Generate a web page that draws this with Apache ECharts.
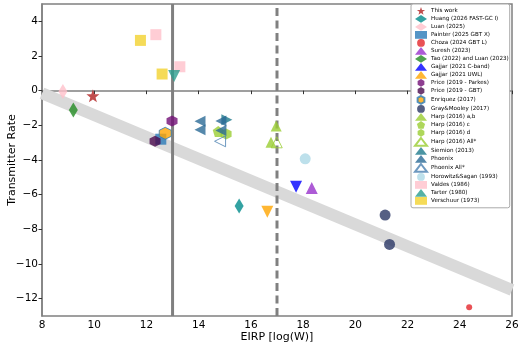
<!DOCTYPE html>
<html>
<head>
<meta charset="utf-8">
<script src="https://cdn.jsdelivr.net/npm/echarts@6/dist/echarts.min.js"></script>
<style>
  html, body { margin: 0; padding: 0; background: #fff; }
  #chart { width: 524px; height: 347px; }
</style>
</head>
<body>
<div id="chart"></div>
<script>
  // points, [EIRP, transmitter rate]
  const thisWork = [[9.95, -0.3]]
  const huang = [[15.55, -6.65]]
  const luan2025 = [[8.8, -0.05]]
  const painter = [[12.55, -2.8]]
  const choza = [[24.36, -12.5]]
  const suresh = [[18.33, -5.62]]
  const tao = [[9.2, -1.12]]
  const gajjarC = [[17.73, -5.55]]
  const gajjarUWL = [[16.63, -6.98]]
  const priceParkes = [[12.98, -1.75]]
  const priceGBT = [[12.33, -2.92]]
  const enriquez = [[12.72, -2.46]]
  const grayMooley = [[21.14, -7.18], [21.31, -8.87]]
  const harpAB = [[16.97, -2.04], [16.77, -2.98]]
  const harpC = [[14.75, -2.35]]
  const harpD = [[15.05, -2.5]]
  const harpAll = [[16.99, -2.98]]
  const siemion = [[15.08, -1.68]]
  const phoenix = [[14.05, -1.77], [14.05, -2.25], [14.85, -1.75], [14.85, -2.3]]
  const phoenixAll = [[14.82, -2.92]]
  const horowitz = [[18.08, -3.93]]
  const valdes = [[12.36, 3.23], [13.28, 1.38]]
  const tarter = [[13.06, 0.85]]
  const verschuur = [[11.77, 2.9], [12.6, 0.96]]

  // grey trend band and the two reference lines
  const bandLine = [[8, -0.15], [26, -11.5]]
  const solidLineX = 13
  const dashLineX = 17

  const xTicks = [8, 10, 12, 14, 16, 18, 20, 22, 24, 26]
  const yTicks = [-12, -10, -8, -6, -4, -2, 0, 2, 4]

  const STAR = 'path://M0,-10 L2.35,-3.24 L9.51,-3.09 L3.8,1.24 L5.88,8.09 L0,4 L-5.88,8.09 L-3.8,1.24 L-9.51,-3.09 L-2.35,-3.24 Z'
  const HEX = 'path://M0,-10 L8.66,-5 L8.66,5 L0,10 L-8.66,5 L-8.66,-5 Z'
  const PENT = 'path://M0,-10 L9.51,-3.09 L5.88,8.09 L-5.88,8.09 L-9.51,-3.09 Z'

  function pts(name, data, symbol, size, color, extra) {
    let s = {
      name: name,
      type: 'scatter',
      data: data,
      symbol: symbol,
      symbolSize: size,
      itemStyle: { color: color },
      z: 5
    }
    return Object.assign(s, extra || {})
  }

  // matplotlib style minus sign
  function minus(v) {
    return v < 0 ? '\u2212' + Math.abs(v) : String(v)
  }

  const series = [
    {
      type: 'line', data: bandLine, symbol: 'none', silent: true, z: 1,
      lineStyle: { color: '#d9d9d9', width: 12 }
    },
    {
      type: 'line', data: [[solidLineX, -13], [solidLineX, 5]], symbol: 'none', silent: true, z: 2,
      lineStyle: { color: '#808080', width: 3 }
    },
    {
      type: 'line', data: [[dashLineX, -13], [dashLineX, 5]], symbol: 'none', silent: true, z: 2,
      lineStyle: { color: '#808080', width: 3, type: [8, 4.5] }
    },
    pts('This work', thisWork, STAR, 13, '#b22222'),
    pts('Huang (2026 FAST-GC I)', huang, 'diamond', [9, 15], '#008b8b'),
    pts('Luan (2025)', luan2025, 'diamond', [9, 15], '#ffc0cb'),
    pts('Painter (2025 GBT X)', painter, 'rect', 11, '#2a7ab8'),
    pts('Choza (2024 GBT L)', choza, 'circle', 6, '#e3262a'),
    pts('Suresh (2023)', suresh, 'triangle', 12, '#9932cc'),
    pts('Tao (2022) and Luan (2023)', tao, 'diamond', [9, 15], '#228b22'),
    pts('Gajjar (2021 C-band)', gajjarC, 'triangle', 12, '#0000ff', { symbolRotate: 180 }),
    pts('Gajjar (2021 UWL)', gajjarUWL, 'triangle', 12, '#ffa500', { symbolRotate: 180 }),
    pts('Price (2019 - Parkes)', priceParkes, HEX, 11, '#720e75'),
    pts('Price (2019 - GBT)', priceGBT, HEX, 11, '#4a0a4e'),
    pts('Enriquez (2017)', enriquez, HEX, 12, '#ffa500', { itemStyle: { color: '#ffa500', borderColor: '#2a7ab8', borderWidth: 1 } }),
    pts('Gray&Mooley (2017)', grayMooley, 'circle', 11, '#2b3765'),
    pts('Harp (2016) a,b', harpAB, 'triangle', 11, '#9acd32'),
    pts('Harp (2016) c', harpC, PENT, 11, '#9acd32'),
    pts('Harp (2016) d', harpD, HEX, 11, '#9acd32'),
    pts('Harp (2016) All*', harpAll, 'triangle', 11, '#9acd32',
      { itemStyle: { color: 'rgba(255,255,255,0)', borderColor: '#9acd32', borderWidth: 1 } }),
    pts('Siemion (2013)', siemion, 'triangle', 11, '#1f7a8c', { symbolRotate: -90 }),
    pts('Phoenix', phoenix, 'triangle', 11, '#2b6a96', { symbolRotate: 90 }),
    pts('Phoenix All*', phoenixAll, 'triangle', 11, '#4a80b0',
      { symbolRotate: 90, itemStyle: { color: 'rgba(255,255,255,0)', borderColor: '#4a80b0', borderWidth: 1 } }),
    pts('Horowitz&Sagan (1993)', horowitz, 'circle', 11, '#add8e6'),
    pts('Valdes (1986)', valdes, 'rect', 11, '#ffc0cb'),
    pts('Tarter (1980)', tarter, 'triangle', 12, '#2a9d8f', { symbolRotate: 180 }),
    pts('Verschuur (1973)', verschuur, 'rect', 11, '#f2d22e')
  ]

  const legendNames = series.filter(function (s) { return s.name }).map(function (s) { return s.name })

  const axisGrey = '#808080'
  let option = {
    animation: false,
    textStyle: { fontFamily: 'DejaVu Sans' },
    grid: {
      left: 42, right: 12, top: 4, bottom: 31,
      outerBoundsMode: 'none',
      show: true, borderColor: axisGrey, borderWidth: 1.5
    },
    xAxis: {
      type: 'value', min: 8, max: 26, interval: 2,
      name: 'EIRP [log(W)]', nameLocation: 'middle', nameGap: 16, nameMoveOverlap: false,
      nameTextStyle: { color: '#000', fontSize: 11 },
      axisLine: { lineStyle: { color: axisGrey, width: 1.5 } },
      axisTick: { show: true, length: 3.5, lineStyle: { color: '#333' }, customValues: xTicks },
      axisLabel: { color: '#000', fontSize: 10.5, margin: 4, customValues: xTicks, formatter: minus },
      splitLine: { show: false }
    },
    yAxis: {
      type: 'value', min: -13, max: 5,
      name: 'Transmitter Rate', nameLocation: 'middle', nameGap: 24, nameMoveOverlap: false,
      nameTextStyle: { color: '#000', fontSize: 11 },
      axisLine: { lineStyle: { color: axisGrey, width: 1.5 } },
      axisTick: { show: true, length: 3.5, lineStyle: { color: '#333' }, customValues: yTicks },
      axisLabel: { color: '#000', fontSize: 10.5, margin: 4, customValues: yTicks, formatter: minus },
      splitLine: { show: false }
    },
    legend: {
      data: legendNames,
      orient: 'vertical',
      left: 411, top: 4,
      backgroundColor: '#fff',
      borderColor: '#aaa', borderWidth: 1, borderRadius: 2,
      padding: [3, 1, 3, 3],
      itemWidth: 12, itemHeight: 7.8, itemGap: 0.2,
      textStyle: { fontSize: 5.6, lineHeight: 7.8, color: '#000', padding: [0, 0, 0, -1] }
    },
    series: series
  }

  let myChart = echarts.init(document.getElementById('chart'))
  myChart.setOption(option)
</script>
</body>
</html>
